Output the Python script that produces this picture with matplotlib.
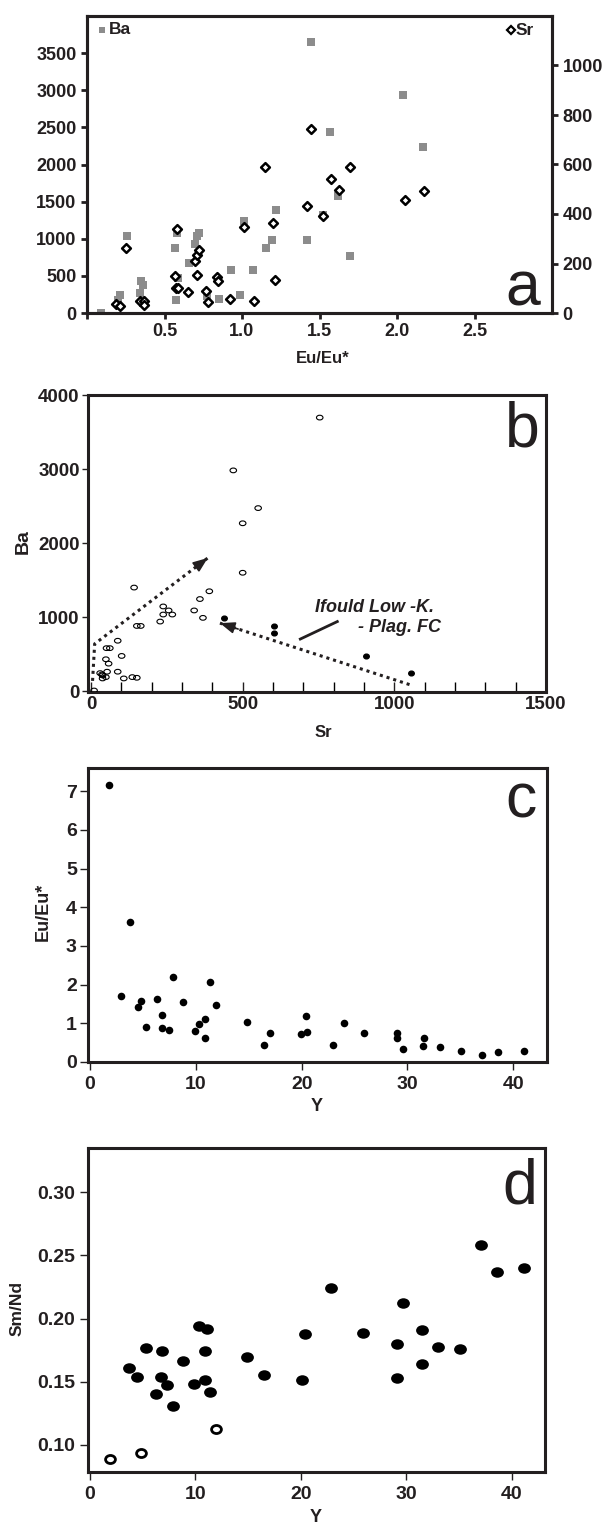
import matplotlib
matplotlib.use("Agg")
import matplotlib.pyplot as plt
import numpy as np
from matplotlib.path import Path

# ---------------- data ----------------
# panel a : Eu/Eu* vs Ba (left axis) and Sr (right axis)
a_ba_x = [0.09, 0.20, 0.21, 0.26, 0.34, 0.35, 0.36, 0.57, 0.58, 0.575, 0.59, 0.655, 0.695,
          0.71, 0.725, 0.775, 0.85, 0.93, 0.99, 1.01, 1.07, 1.155, 1.195, 1.22, 1.42, 1.445,
          1.525, 1.57, 1.62, 1.695, 2.04, 2.17]
a_ba_y = [0, 180, 247, 1032, 270, 435, 372, 875, 1077, 180, 471, 673, 929,
          1032, 1077, 224, 193, 574, 242, 1234, 574, 875, 978, 1382, 978, 3644,
          1324, 2432, 1571, 772, 2940, 2235]
a_sr_x = [0.19, 0.21, 0.25, 0.34, 0.37, 0.37, 0.58, 0.565, 0.575, 0.59, 0.65, 0.695, 0.71,
          0.72, 0.71, 0.77, 0.78, 0.84, 0.845, 0.92, 1.01, 1.075, 1.15, 1.20, 1.215, 1.42,
          1.445, 1.525, 1.575, 1.625, 1.695, 2.05, 2.175]
a_sr_y = [36, 27, 262, 50, 50, 34, 338, 149, 102, 99, 83, 212, 235,
          255, 153, 87, 44, 145, 131, 56, 349, 47, 590, 362, 134, 433,
          745, 392, 542, 497, 588, 456, 493]

# panel b : Sr vs Ba
b_open_sr = [10, 30, 38, 38, 49, 36, 49, 53, 58, 51, 62, 88, 88, 101, 108, 136, 151, 142,
             151, 164, 228, 238, 238, 256, 268, 340, 359, 369, 390, 469, 500, 500, 551, 754]
b_open_ba = [10, 245, 214, 173, 191, 227, 432, 264, 373, 582, 582, 682, 264, 477, 173, 191,
             182, 1400, 882, 882, 941, 1036, 1145, 1091, 1036, 1091, 1245, 991, 1350, 2982,
             2268, 1600, 2473, 3695]
b_fill_sr = [440, 603, 603, 905, 1056]
b_fill_ba = [991, 886, 782, 477, 241]
trend1 = [(5, 140), (12, 640), (385, 1800)]
trend2 = [(1050, 90), (425, 920)]
label_line = [(690, 705), (812, 941)]

# panel c : Y vs Eu/Eu*
c_y = [1.79, 2.93, 3.73, 4.50, 4.79, 5.30, 6.33, 6.84, 6.84, 7.42, 7.79, 8.81, 9.87, 10.31,
       10.9, 10.9, 11.3, 11.92, 14.88, 16.45, 17.0, 19.93, 20.44, 20.48, 22.96, 23.98,
       25.92, 29.03, 29.03, 29.54, 31.55, 31.52, 33.09, 35.06, 37.07, 38.54, 41.02]
c_eu = [7.17, 1.70, 3.62, 1.43, 1.58, 0.91, 1.64, 1.22, 0.88, 0.84, 2.21, 1.56, 0.81, 0.97,
        1.10, 0.63, 2.06, 1.48, 1.03, 0.45, 0.76, 0.72, 1.19, 0.78, 0.45, 1.01,
        0.75, 0.76, 0.62, 0.33, 0.63, 0.41, 0.40, 0.28, 0.17, 0.27, 0.28]

# panel d : Y vs Sm/Nd
d_y = [3.77, 4.47, 5.35, 6.89, 6.81, 6.30, 7.33, 7.88, 8.83, 9.89, 10.33, 11.14, 10.95,
       10.92, 11.39, 14.95, 16.48, 20.15, 20.44, 22.89, 25.93, 29.12, 29.08, 29.67, 31.54,
       31.47, 33.0, 35.09, 37.07, 38.61, 41.17]
d_smnd = [0.1604, 0.1535, 0.1766, 0.1744, 0.1535, 0.1405, 0.1472, 0.1307, 0.1665, 0.1479,
          0.1938, 0.1919, 0.1739, 0.1511, 0.1419, 0.1691, 0.1551, 0.1511, 0.1877, 0.2245,
          0.1882, 0.1795, 0.1532, 0.2126, 0.1911, 0.1636, 0.1771, 0.1760, 0.2581, 0.2372, 0.2399]
d_open_y = [1.9, 4.9, 11.94]
d_open_smnd = [0.0886, 0.0931, 0.1127]

# ---------------- style ----------------
INK = '#231f20'
GREY = '#8c8c8c'
TICKFONT = ['Liberation Sans Narrow', 'Liberation Sans', 'DejaVu Sans']
LABFONT = ['Liberation Sans', 'DejaVu Sans']
plt.rcParams['font.family'] = LABFONT

def ellipse(ry):
    c = Path.unit_circle()
    v = c.vertices.copy()
    v[:, 1] *= ry
    return Path(v, c.codes)

def style_axes(ax, tick_len=4, tick_w=1.0, fs=13, direction='out'):
    for s in ax.spines.values():
        s.set_linewidth(2.2)
        s.set_color(INK)
    ax.tick_params(axis='both', colors=INK, length=tick_len, width=tick_w,
                   direction=direction, labelsize=fs)
    for lab in ax.get_xticklabels() + ax.get_yticklabels():
        lab.set_fontfamily(TICKFONT)
        lab.set_fontweight('bold')

fig = plt.figure(figsize=(6.06, 15.24), dpi=100)

# ---------------- panel a ----------------
ax = fig.add_axes([87/606, 1-313/1524, 465/606, 297/1524])
ax.scatter(a_ba_x, a_ba_y, marker='s', s=30, color=GREY, linewidths=0, zorder=2)
ax.set_xlim(0, 3.0)
ax.set_ylim(0, 4000)
ax.set_xticks([0, 0.5, 1.0, 1.5, 2.0, 2.5])
ax.set_xticklabels(['', '0.5', '1.0', '1.5', '2.0', '2.5'])
ax.set_yticks(range(0, 3501, 500))
style_axes(ax, tick_len=4, tick_w=2.0, fs=13)
ax.tick_params(axis='x', pad=3)
ax2 = ax.twinx()
ax2.scatter(a_sr_x, a_sr_y, marker='D', s=20, facecolor='white', edgecolor='black',
            linewidths=1.8, zorder=3)
ax2.set_ylim(0, 1200)
ax2.set_yticks(range(0, 1001, 200))
style_axes(ax2, tick_len=4, tick_w=2.0, fs=13)
ax.set_xlabel('Eu/Eu*', fontsize=12, fontweight='bold', color=INK, va='center')
ax.xaxis.set_label_coords(0.507, -0.152)
ax.plot([0.032], [0.953], marker='s', ms=5, color=GREY, mew=0, transform=ax.transAxes,
        clip_on=False)
ax.text(0.047, 0.953, 'Ba', transform=ax.transAxes, fontsize=12.5, fontweight='bold',
        color=INK, va='center', ha='left')
ax.plot([0.912], [0.953], marker='D', ms=4, mfc='white', mec='black', mew=1.6,
        transform=ax.transAxes, clip_on=False)
ax.text(0.922, 0.950, 'Sr', transform=ax.transAxes, fontsize=12.5, fontweight='bold',
        color=INK, va='center', ha='left')
ax.text(0.975, 0.025, 'a', transform=ax.transAxes, fontsize=45, color=INK,
        ha='right', va='baseline')

# ---------------- panel b ----------------
ax = fig.add_axes([88/606, 1-692/1524, 458/606, 297/1524])
ax.scatter(b_open_sr, b_open_ba, marker=ellipse(0.72), s=22, facecolor='none',
           edgecolor='black', linewidths=0.8, zorder=3)
ax.scatter(b_fill_sr, b_fill_ba, marker=ellipse(0.85), s=16, color='black', zorder=3)
tx, ty = zip(*trend1)
ax.plot(tx, ty, linestyle=(0, (1, 1.3)), lw=2.2, color=INK)
ax.annotate('', xy=trend1[-1], xytext=(trend1[-1][0]-40, trend1[-1][1]-124),
            arrowprops=dict(arrowstyle='-|>,head_length=0.9,head_width=0.35',
                            color=INK, lw=1.2, shrinkA=0, shrinkB=0))
tx, ty = zip(*trend2)
ax.plot(tx, ty, linestyle=(0, (1, 1.3)), lw=2.2, color=INK)
ax.annotate('', xy=trend2[-1], xytext=(trend2[-1][0]+60, trend2[-1][1]-80),
            arrowprops=dict(arrowstyle='-|>,head_length=0.9,head_width=0.35',
                            color=INK, lw=1.2, shrinkA=0, shrinkB=0))
lx, ly = zip(*label_line)
ax.plot(lx, ly, color=INK, lw=2)
ax.text(933, 1136, 'Ifould Low -K.', fontsize=13, fontweight='bold', style='italic',
        color=INK, ha='center', va='center')
ax.text(1017, 855, '- Plag. FC', fontsize=13, fontweight='bold', style='italic',
        color=INK, ha='center', va='center')
ax.set_xlim(-10, 1500)
ax.set_ylim(-10, 4000)
ax.set_xticks([0, 500, 1000, 1500])
ax.set_xticks(range(0, 1501, 100), minor=True)
ax.set_yticks(range(0, 4001, 1000))
style_axes(ax, tick_len=4, tick_w=1.0, fs=13.5)
ax.tick_params(axis='x', which='both', direction='in', length=7, width=1.0, pad=3)
ax.tick_params(axis='y', pad=2)
ax.set_xlabel('Sr', fontsize=12, fontweight='bold', color=INK, va='center')
ax.xaxis.set_label_coords(0.513, -0.135)
ax.set_ylabel('Ba', fontsize=14, fontweight='bold', color=INK, va='center', ha='center')
ax.yaxis.set_label_coords(-0.142, 0.505)
ax.text(0.987, 0.825, 'b', transform=ax.transAxes, fontsize=45, color=INK,
        ha='right', va='baseline')

# ---------------- panel c ----------------
ax = fig.add_axes([88/606, 1-1062/1524, 459/606, 294/1524])
ax.scatter(c_y, c_eu, s=30, color='black', linewidths=0, zorder=3)
ax.set_xlim(-0.2, 43.2)
ax.set_ylim(0, 7.6)
ax.set_xticks(range(0, 41, 10))
ax.set_yticks(range(0, 8))
style_axes(ax, tick_len=6, tick_w=1.0, fs=14)
ax.tick_params(axis='x', pad=4)
ax.tick_params(axis='y', pad=2)
ax.set_xlabel('Y', fontsize=13, fontweight='bold', color=INK, va='center')
ax.xaxis.set_label_coords(0.499, -0.153)
ax.set_ylabel('Eu/Eu*', fontsize=13, fontweight='bold', color=INK, va='center',
              ha='center')
ax.yaxis.set_label_coords(-0.098, 0.51)
ax.text(0.978, 0.833, 'c', transform=ax.transAxes, fontsize=45, color=INK,
        ha='right', va='baseline')

# ---------------- panel d ----------------
ax = fig.add_axes([88/606, 1-1472/1524, 457/606, 324/1524])
ax.scatter(d_y, d_smnd, marker=ellipse(0.82), s=85, color='black', linewidths=0, zorder=3)
ax.scatter(d_open_y, d_open_smnd, marker=ellipse(0.82), s=50, facecolor='white',
           edgecolor='black', linewidths=2.0, zorder=3)
ax.set_xlim(-0.15, 43.15)
ax.set_ylim(0.0783, 0.3352)
ax.set_xticks(range(0, 41, 10))
ax.set_yticks([0.10, 0.15, 0.20, 0.25, 0.30])
ax.set_yticklabels(['0.10', '0.15', '0.20', '0.25', '0.30'])
style_axes(ax, tick_len=6, tick_w=1.0, fs=14)
ax.tick_params(axis='x', pad=4)
ax.tick_params(axis='y', pad=3)
ax.set_xlabel('Y', fontsize=13, fontweight='bold', color=INK, va='center')
ax.xaxis.set_label_coords(0.499, -0.139)
ax.set_ylabel('Sm/Nd', fontsize=12.5, fontweight='bold', color=INK, va='center',
              ha='center')
ax.yaxis.set_label_coords(-0.155, 0.506)
ax.text(0.982, 0.830, 'd', transform=ax.transAxes, fontsize=45, color=INK,
        ha='right', va='baseline')

fig.savefig('out.png', dpi=100)
